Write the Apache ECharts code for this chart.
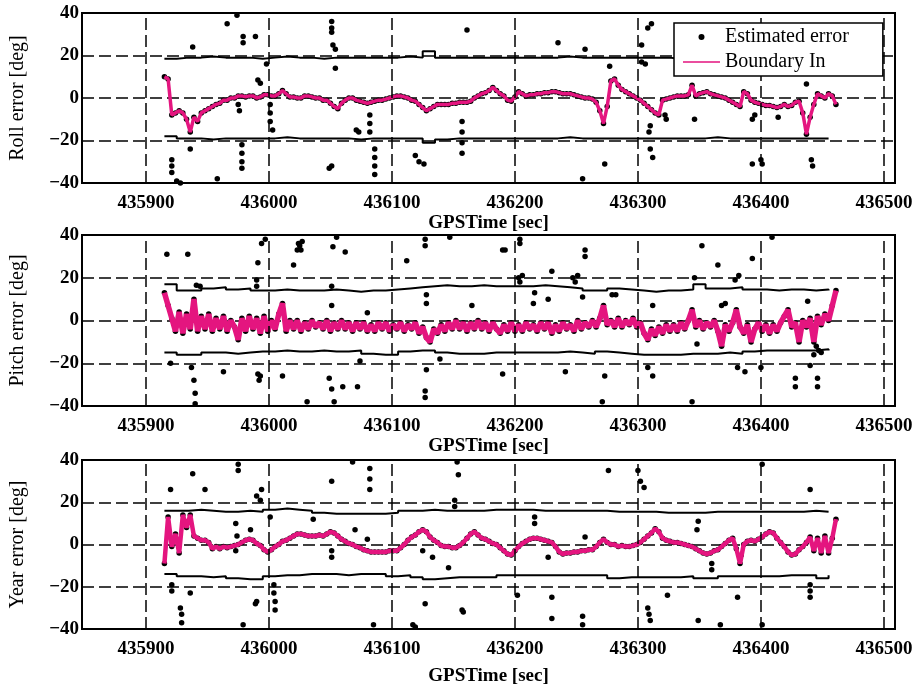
<!DOCTYPE html>
<html>
<head>
<meta charset="utf-8">
<script src="https://cdn.jsdelivr.net/npm/echarts@6/dist/echarts.min.js"></script>
<style>html,body{margin:0;padding:0;background:#fff;}#c{width:920px;height:687px;}</style>
</head>
<body>
<div id="c"></div>
<script>
// ---------- data ----------
const xTicks = [435900, 436000, 436100, 436200, 436300, 436400, 436500];
const yTicks = [-40, -20, 0, 20, 40];
const T0 = 435915, DT = 3;     // sampling grid for the estimated-error traces
const B0 = 435915, BDT = 10;   // sampling grid for the boundary traces

const rollCenter = [10,9,-8,-7,-6,-7,-10,-16,-9,-11,
-7,-6,-5,-4,-3,-2.5,-1,-1,0,0,
1,1,0.5,1,1,0,0.5,1.5,1.5,1,
1,2,3.5,2,0.5,0.5,0,0,1,1,
0.5,0,0,-1,-1,-2.5,-4,-5,-2.5,-1,
0,0,-1,-1.5,-2,-2.5,-2,-1.5,-1,-1,
-0.5,0,0.5,1,1,0.5,0,-1,-1.5,-3,
-4.5,-6,-5,-4,-3,-3,-3,-3,-2.5,-2.5,
-2,-2,-2,-1.5,0,1,2,2.5,3.5,5,
3.5,2,1,-1,-1.5,0.5,3,2,1,1.5,
1.5,2,2,2.5,2.5,3,3,2.5,2,2,
2,1.5,1,0.5,0,0,-0.5,-2,-6,-12,
-4,8,9,6,4,3,2,1,0,-1,
-2.5,-4,-5.5,-7,-8,-1,-0.5,0,0.5,1,
1,1,1.5,6,1,2,2.5,3,2,1.5,
1,0.5,0,-1,-2,-3,-4,3,2,-1,
-2,-2.5,-3,-3.5,-3.5,-4,-4.5,-4,-3,-4,
-3.5,-2,-1.5,-7,-17,-9,-3,2,1,0,
2,1,-3];

const pitchCenter = [13,7,1,-5,4,-6,3,-4,10,-5,
2,-4,3,-5,1,-4,2,-5,0,-3,
-9,1,-5,2,-4,1,-6,2,-5,0,
-4,3,8,-5,0,-4,0,-5,-1,-4,
0,-3,-1,-4,0,-5,-1,-4,0,-4,
-1,-5,-1,-4,-1,-5,-2,-5,-1,-4,
-1,-5,-2,-4,-1,-5,-2,-4,-1,-6,
-3,-8,-10,-4,-6,-2,-5,-1,-4,0,
-4,-1,-5,-1,-4,0,-4,-1,-5,-1,
-4,-6,-2,-5,-1,-5,-2,-5,-1,-4,
-2,-5,-1,-4,-1,-6,-2,-5,-1,-4,
-2,-5,0,-4,-1,-3,0,-3,1,7,
-2,0,-3,1,-3,0,-2,1,-3,-1,
-6,-9,-4,-7,-3,-6,-2,-5,-2,-5,
-1,-4,0,5,-3,0,-4,-1,-3,0,
-5,-12,-2,-5,-1,5,-3,-6,-2,-10,
-4,-1,-5,-2,-6,-2,-5,-1,2,5,
-3,-1,-10,0,-3,1,-10,2,-2,3,
0,7,14];

const yawCenter = [-9,13,-1,5,-4,14,8,14,4,3,
2,2,1,-2,-1,-2,-1,-1.5,-1,-0.5,
0,1,2,2.5,2,0.5,-0.5,-2.5,-3.5,-2.5,
-1,0,1.5,2,3,4,5,5,4.5,4,
4,4,4.5,4,5,6,5.5,4,2.5,1.5,
0.5,0,-1,-1.5,-2.5,-3,-3.5,-3.5,-3.5,-3.5,
-3.5,-3,-3,-3,-1.5,0,2,3.5,4.5,6,
7,6,3.5,2,1,-0.5,-1,-1,-1.5,-1.5,
-0.5,1,3,5,6,4.5,3,2.5,1.5,0.5,
0,-1.5,-3,-4.5,-5,-3,-1,0.5,1.5,2.5,
3,3,2.5,2,1.5,1,-1,-3.5,-4.5,-4,
-4,-3.5,-3.5,-3,-3,-2.5,-2.5,-1,1,2.5,
1,0,0,-1,-0.5,-1,-1,-0.5,0,1,
2.5,4,5.5,7.5,6,3,2,1.5,1,1,
0.5,0,-0.5,-1,-2,-3,-4,-4.5,-4,-3,
-2.5,-1,0.5,2,3,-2,-9,0,1.5,2,
1.5,2.5,3.5,5,6,5.5,3,1,-1,-3.5,
-5,-4.5,-2.5,-1,1,3.5,-3,3,-4,4,
-4,3,12];

const rollUpper = [18.5,19,19,19.5,19,19,19,18.5,19,19.5,
19,19,18.5,19,19,19,19,19,19,19.5,
19,22,19,19,19,19,19,19,19,19,
19,19,19.5,19,19,19,19,19,19,19,
19,18.5,19,19,19,19,19,19,19,19,
19,19,19,19,19];
const rollLower = [-18,-19,-19,-19.5,-19,-19,-19,-19,-19,-18.5,
-19,-19,-19,-19,-19,-19.5,-19,-19,-19,-19,
-19,-21,-19.5,-19,-19,-19,-19,-19,-19,-19,
-19,-19,-18.5,-19,-19,-19,-19,-19,-19,-19,
-19,-19,-19,-19,-18.5,-19,-19,-19,-19,-19,
-19,-19,-19,-19,-19];
const pitchUpper = [17,14,14,15,15.5,14.5,15,14,14,14.5,
14,14,14,14.5,14,13.5,14,14,14.5,15,
15.5,16,16.5,16,16,16.5,16,16,16,16,
16.5,16,15.5,15,14,14,15,14.5,14,13.5,
14,14,14.5,17,15,15,15.5,14.5,14.5,14,
14.5,14.5,14,14.5,14];
const pitchLower = [-15,-16,-16,-15,-15,-15.5,-15,-14.5,-14.5,-14,
-14.5,-14.5,-14,-14.5,-14.5,-14,-15.5,-16,-16,-14.5,
-14,-14,-15,-15.5,-15.5,-15.5,-15,-15,-15,-15,
-15,-15,-14.5,-15,-15.5,-14.5,-15,-15.5,-16,-16,
-16,-16,-15.5,-15.5,-15.5,-15,-15.5,-14.5,-14,-14,
-14,-14,-14,-13.5,-14];
const yawUpper = [16,16,16.5,16,15.5,15.5,16,15.5,16.5,17,
16.5,16,15,14.5,14.5,14.5,14.5,14.5,15,16,
16,16.5,16,16,16,16,16.5,16.5,16.5,16.5,
16,16,16,16,16,16,15.5,15.5,15.5,15.5,
15,15,15,15,15.5,15.5,15.5,15.5,15.5,15.5,
15.5,15.5,16,15.5,15.5];
const yawLower = [-14,-15,-15,-15.5,-15,-16,-16.5,-16.5,-15,-14.5,
-14.5,-14,-14,-14,-14.5,-14,-14,-14,-15,-14.5,
-15.5,-16.5,-16,-15.5,-15.5,-15.5,-15.5,-14.5,-14.5,-14.5,
-14.5,-14.5,-14.5,-14.5,-14.5,-14.5,-16,-15.5,-15.5,-15.5,
-15.5,-15.5,-15,-16,-16,-15,-15,-15,-15,-15,
-14.5,-14.5,-14.5,-16,-14.5];

// estimated-error points that fall outside the boundaries [time, value]
const rollOut = [[435974,39],[435966,35],[435979,29],[435979,26],[435989,29],[435938,24],[436051,36],[436051,33],[436051,31],[436052,25],[436054,23],[436054,14],[436161,32],[435991,8.5],[435993,7],[435998,16],[435975,-3],[435976,-6],[436001,-3],[436001,-7],[436001,-11],[436003,-15],[435936,-24],[435921,-29],[435921,-32],[435921,-35],[435978,-22],[435978,-26],[435978,-30],[435978,-33],[435958,-38],[435925,-39],[435928,-40],[436051,-32],[436049,-33],[436071,-15],[436073,-16],[436082,-8],[436082,-12],[436082,-16],[436086,-24],[436086,-28],[436086,-32],[436086,-36],[436119,-27],[436122,-30],[436126,-31],[436157,-11],[436157,-16],[436157,-21],[436157,-26],[436308,33],[436311,35],[436235,26],[436257,23],[436303,25],[436303,17],[436306,16],[436277,15],[436437,6.6],[436322,-8],[436323,-10],[436346,-10],[436310,-13],[436309,-16],[436310,-24],[436312,-28],[436273,-31],[436255,-38],[436393,-31],[436400,-29],[436401,-31],[436441,-29],[436442,-32],[436393,-10],[436395,-8],[436414,-9]];
const pitchOut = [[435917,31],[435934,31],[436025,35],[436023,33],[436027,37],[436024,36],[436026,33],[436020,26],[435994,36],[435997,38],[435991,27],[436052,34.5],[436062,32],[436055,39],[436112,28],[436127,35],[436127,38],[436147,39],[436190,33],[435990,16],[435990,19],[435941,16.5],[435944,16],[436051,7],[436051,16],[436080,3.6],[436165,7],[436128,8],[436128,12],[435937,-22],[435939,-28],[435963,-24],[435991,-25],[435992,-28],[435993,-26],[435940,-34],[435940,-39],[436011,-26],[436031,-38],[436049,-27],[436051,-32],[436053,-38],[436060,-31],[436072,-31],[436074,-19],[436127,-33],[436127,-36],[436128,-23],[436139,-18],[436190,-25],[435920,-20],[436204,36],[436204,38],[436192,33],[436257,30],[436257,33],[436230,23],[436204,18],[436206,21],[436203,20],[436249,18],[436251,21],[436247,20],[436215,8],[436216,13],[436227,10],[436255,11],[436279,12],[436282,12],[436352,35],[436365,26],[436393,29],[436379,19],[436382,21],[436346,20],[436312,7],[436368,7],[436371,8],[436438,9],[436409,39],[436241,-24],[436273,-26],[436271,-38],[436308,-22],[436312,-26],[436344,-38],[436348,-11],[436381,-22],[436387,-24],[436400,-22],[436428,-27],[436428,-31],[436446,-27],[436446,-31],[436440,-21],[436445,-12],[436447,-14],[436443,-16],[436449,-15]];
const yawOut = [[435975,35],[435975,38],[435938,33.5],[435920,26],[435948,26],[435993,21],[435990,23],[435994,26],[436051,30],[436068,39],[436082,26],[436082,31],[436082,36],[436153,39],[436154,33],[436151,18],[436151,21],[435973,-3],[435974,4],[435973,10],[435985,7],[436001,13],[436036,12],[436051,-3],[436051,-6],[436070,7],[436080,2.5],[436125,-3],[436133,-6],[436146,-11],[435921,-19],[435921,-22],[435936,-23],[435928,-30],[435929,-33],[435929,-37],[435990,-27],[435989,-28],[436004,-19],[436004,-23],[436005,-27],[436005,-31],[435979,-38],[436085,-38],[436117,-38],[436119,-39],[436127,-28],[436157,-31],[436158,-32],[436276,35],[436300,35],[436302,30],[436305,27],[436440,26],[436401,38],[436216,10],[436216,13],[436348,7],[436349,11],[436257,3.5],[436227,-6],[436360,-9],[436360,-12],[436384,-5],[436202,-24],[436230,-25],[436230,-35],[436255,-34],[436255,-38],[436308,-30],[436309,-33],[436310,-36],[436324,-24],[436349,-36],[436367,-38],[436401,-38],[436440,-19],[436440,-22],[436440,-25],[436381,-25]];

const yNames = ['Roll error [deg]', 'Pitch error [deg]', 'Year error [deg]'];
const xName = 'GPSTime [sec]';

// ---------- chart ----------
const SERIF = "'Liberation Serif','Times New Roman',serif";
const PINK = '#e4157f';
const DASH = [12, 5];
const panels = [
  {center: rollCenter, upper: rollUpper, lower: rollLower, out: rollOut, top: 13, height: 170, xGap: 26, pw: 3.5},
  {center: pitchCenter, upper: pitchUpper, lower: pitchLower, out: pitchOut, top: 235, height: 171, xGap: 29, pw: 5.5},
  {center: yawCenter, upper: yawUpper, lower: yawLower, out: yawOut, top: 460, height: 169, xGap: 38, pw: 4.5}
];
const pairs = (vals, t0, dt) => vals.map((v, i) => [t0 + i * dt, v]);

const grid = [], xAxis = [], yAxis = [], series = [];
panels.forEach((p, i) => {
  grid.push({left: 82, top: p.top, width: 813, height: p.height, show: true,
             borderColor: '#000', borderWidth: 2, backgroundColor: 'transparent'});
  xAxis.push({type: 'value', gridIndex: i, min: 435848, max: 436509,
    splitLine: {show: false}, axisLine: {show: false}, axisTick: {show: false},
    axisLabel: {customValues: xTicks, color: '#000', fontFamily: SERIF, fontWeight: 'bold', fontSize: 19, margin: 11,
                formatter: v => String(v)},
    name: xName, nameLocation: 'middle', nameGap: p.xGap,
    nameTextStyle: {color: '#000', fontFamily: SERIF, fontWeight: 'bold', fontSize: 19}});
  yAxis.push({type: 'value', gridIndex: i, min: yTicks[0], max: yTicks[yTicks.length - 1], interval: 20,
    splitLine: {show: true, lineStyle: {color: '#000', type: DASH, width: 1.5}},
    axisLine: {show: false}, axisTick: {show: false},
    axisLabel: {color: '#000', fontFamily: SERIF, fontWeight: 'bold', fontSize: 19, margin: 3,
                formatter: v => String(v).replace('-', '\u2212')},
    name: yNames[i], nameLocation: 'middle', nameGap: 54,
    nameTextStyle: {color: '#000', fontFamily: SERIF, fontSize: 20}});
  // vertical dashed grid lines at the x ticks
  series.push({type: 'line', xAxisIndex: i, yAxisIndex: i, data: [], z: 1, silent: true,
    markLine: {silent: true, symbol: ['none', 'none'], label: {show: false}, animation: false,
      lineStyle: {color: '#000', type: DASH, width: 1.5},
      data: xTicks.map(x => ({xAxis: x}))}});
  const bStyle = {color: '#000', width: 2};
  series.push({name: 'upper', type: 'line', xAxisIndex: i, yAxisIndex: i, step: 'end', symbol: 'none',
    silent: true, z: 2, lineStyle: bStyle, data: pairs(p.upper, B0, BDT)});
  series.push({name: 'lower', type: 'line', xAxisIndex: i, yAxisIndex: i, step: 'end', symbol: 'none',
    silent: true, z: 2, lineStyle: bStyle, data: pairs(p.lower, B0, BDT)});
  series.push({name: 'Estimated error', type: 'scatter', xAxisIndex: i, yAxisIndex: i, symbol: 'circle',
    symbolSize: 5.5, z: 3, itemStyle: {color: '#000', opacity: 1}, data: pairs(p.center, T0, DT).concat(p.out)});
  series.push({name: 'Boundary In', type: 'line', xAxisIndex: i, yAxisIndex: i, symbol: 'none', z: 4,
    itemStyle: {color: PINK}, lineStyle: {color: PINK, width: p.pw}, data: pairs(p.center, T0, DT)});
});

const chart = echarts.init(document.getElementById('c'), null, {renderer: 'canvas'});
chart.setOption({
  animation: false,
  backgroundColor: '#fff',
  grid, xAxis, yAxis, series,
  legend: {
    left: 674, top: 23, orient: 'vertical', padding: [4, 34, 4, 9], itemGap: 5,
    itemWidth: 37, itemHeight: 6, borderColor: '#000', borderWidth: 1.5, backgroundColor: '#fff', z: 10,
    textStyle: {fontFamily: SERIF, fontSize: 20, color: '#000'},
    data: [
      {name: 'Estimated error', icon: 'circle'},
      {name: 'Boundary In', icon: 'path://M0 0h0.01v0.01h-0.01z M0 2.2H37V3.8H0z M0 5.99h0.01v0.01h-0.01z'}
    ]
  }
});
</script>
</body>
</html>
